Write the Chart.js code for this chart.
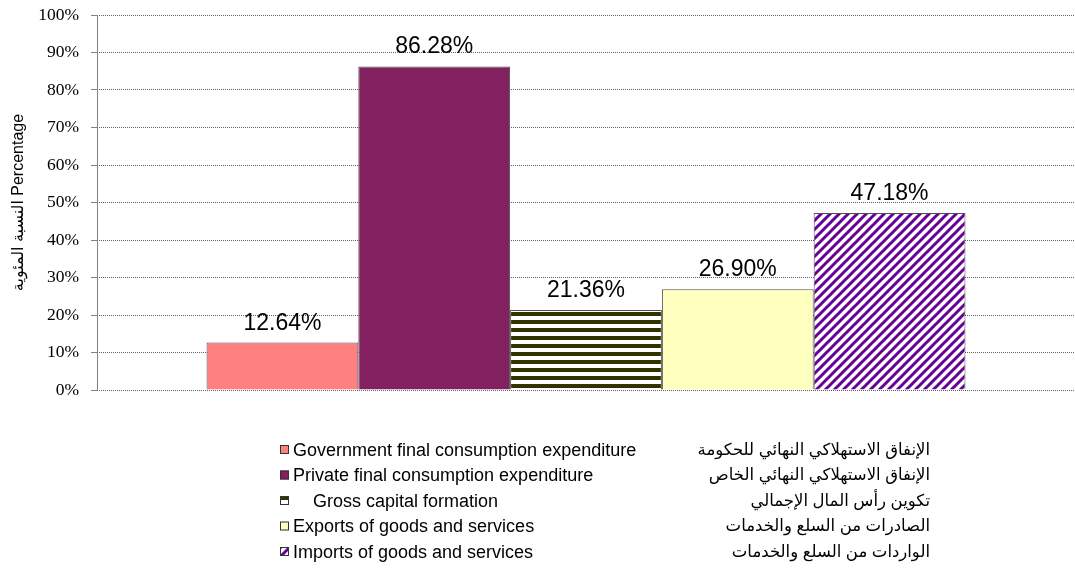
<!DOCTYPE html>
<html>
<head>
<meta charset="utf-8">
<script src="https://cdn.jsdelivr.net/npm/chart.js@4.4.1/dist/chart.umd.min.js"></script>
<style>
  html, body { margin: 0; padding: 0; background: #fff; }
  #wrap { width: 1075px; height: 574px; position: relative; }
</style>
</head>
<body>
<div id="wrap"><canvas id="chart"></canvas></div>
<script>
// ===== Data =====
const seriesEn = [
    'Government final consumption expenditure',
    'Private final consumption expenditure',
    '    Gross capital formation',
    'Exports of goods and services',
    'Imports of goods and services'
];
const seriesAr = [
    'الإنفاق الاستهلاكي النهائي للحكومة',
    'الإنفاق الاستهلاكي النهائي الخاص',
    'تكوين رأس المال الإجمالي',
    'الصادرات من السلع والخدمات',
    'الواردات من السلع والخدمات'
];
const values = [12.64, 86.28, 21.36, 26.90, 47.18];
const categories = [''];
const yTitle = 'النسبة المئوية Percentage';

// ===== Fills =====
function hStripes() {
    const c = document.createElement('canvas');
    c.width = 8; c.height = 8;
    const g = c.getContext('2d');
    g.fillStyle = '#ffffff';
    g.fillRect(0, 0, 8, 8);
    g.fillStyle = '#333300';
    g.fillRect(0, 0, 8, 4);
    return g.createPattern(c, 'repeat');
}

function diagStripes() {
    const s = 9;
    const c = document.createElement('canvas');
    c.width = s; c.height = s;
    const g = c.getContext('2d');
    g.fillStyle = '#ffffff';
    g.fillRect(0, 0, s, s);
    g.strokeStyle = '#660099';
    g.lineWidth = 3;
    g.beginPath();
    g.moveTo(-1, s + 1); g.lineTo(s + 1, -1);
    g.moveTo(-2, 2); g.lineTo(2, -2);
    g.moveTo(s - 2, s + 2); g.lineTo(s + 2, s - 2);
    g.stroke();
    return g.createPattern(c, 'repeat');
}

const fills = ['#ff8080', '#822060', hStripes(), '#ffffc0', diagStripes()];

const SANS = "'Liberation Sans', Arial, 'DejaVu Sans', sans-serif";
const SERIF = "'Liberation Serif', 'Times New Roman', serif";

// ===== Plugins =====
// solid value axis line (grid lines stay dotted)
const solidAxis = {
    id: 'solidAxis',
    afterDraw(chart) {
        const y = chart.scales.y;
        const ctx = chart.ctx;
        ctx.save();
        ctx.strokeStyle = '#808080';
        ctx.lineWidth = 1;
        ctx.beginPath();
        ctx.moveTo(y.right + 0.5, y.top);
        ctx.lineTo(y.right + 0.5, y.bottom + 0.5);
        ctx.stroke();
        ctx.restore();
    }
};

const valueLabels = {
    id: 'valueLabels',
    afterDatasetsDraw(chart) {
        const ctx = chart.ctx;
        ctx.save();
        ctx.font = '23px ' + SANS;
        ctx.fillStyle = '#000';
        ctx.textAlign = 'center';
        ctx.textBaseline = 'alphabetic';
        chart.data.datasets.forEach((ds, i) => {
            const bar = chart.getDatasetMeta(i).data[0];
            ctx.fillText(ds.data[0].toFixed(2) + '%', bar.x, bar.y - 13);
        });
        ctx.restore();
    }
};

const sideLegend = {
    id: 'sideLegend',
    afterDraw(chart) {
        const ctx = chart.ctx;
        const rowY = [450, 475.5, 501, 526.5, 552];
        ctx.save();
        chart.data.datasets.forEach((ds, i) => {
            const y = rowY[i];
            // swatch
            ctx.fillStyle = ds.backgroundColor;
            ctx.fillRect(280, y - 5, 9, 9);
            ctx.strokeStyle = '#333';
            ctx.lineWidth = 1;
            ctx.strokeRect(280.5, y - 4.5, 8, 8);
            // english
            ctx.fillStyle = '#000';
            ctx.font = '18px ' + SANS;
            ctx.textAlign = 'left';
            ctx.textBaseline = 'middle';
            ctx.direction = 'ltr';
            ctx.fillText(seriesEn[i], 293, y + 1);
            // arabic
            ctx.font = '16.5px ' + SANS;
            ctx.direction = 'rtl';
            ctx.textAlign = 'right';
            ctx.fillText(seriesAr[i], 930, y);
        });
        ctx.restore();
    }
};

// ===== Chart =====
const datasets = seriesEn.map((name, i) => ({
    label: name.trim(),
    data: [values[i]],
    backgroundColor: fills[i],
    borderColor: '#505050',
    borderWidth: 1,
    borderSkipped: 'bottom'
}));

new Chart(document.getElementById('chart'), {
    type: 'bar',
    data: { labels: categories, datasets: datasets },
    options: {
        responsive: true,
        maintainAspectRatio: false,
        animation: false,
        devicePixelRatio: 1,
        categoryPercentage: 0.776,
        barPercentage: 1,
        layout: { padding: { top: 15, bottom: 184, left: 0, right: 0 } },
        plugins: {
            legend: { display: false },
            tooltip: { enabled: false }
        },
        scales: {
            x: { display: false },
            y: {
                min: 0,
                max: 100,
                afterFit(scale) {
                    scale.width = 97;
                    scale.paddingTop = 0;
                    scale.paddingBottom = 0;
                },
                ticks: {
                    stepSize: 10,
                    padding: 12,
                    color: '#000',
                    font: { family: SERIF, size: 17.5 },
                    callback: v => v + '%'
                },
                grid: {
                    color: '#606060',
                    tickLength: 6,
                    tickColor: '#808080',
                    tickBorderDash: []
                },
                border: { display: false, dash: [1, 1] },
                title: {
                    display: true,
                    text: yTitle,
                    color: '#000',
                    font: { family: SANS, size: 16 },
                    padding: { top: 9, bottom: 0 }
                }
            }
        }
    },
    plugins: [valueLabels, solidAxis, sideLegend]
});
</script>
</body>
</html>
